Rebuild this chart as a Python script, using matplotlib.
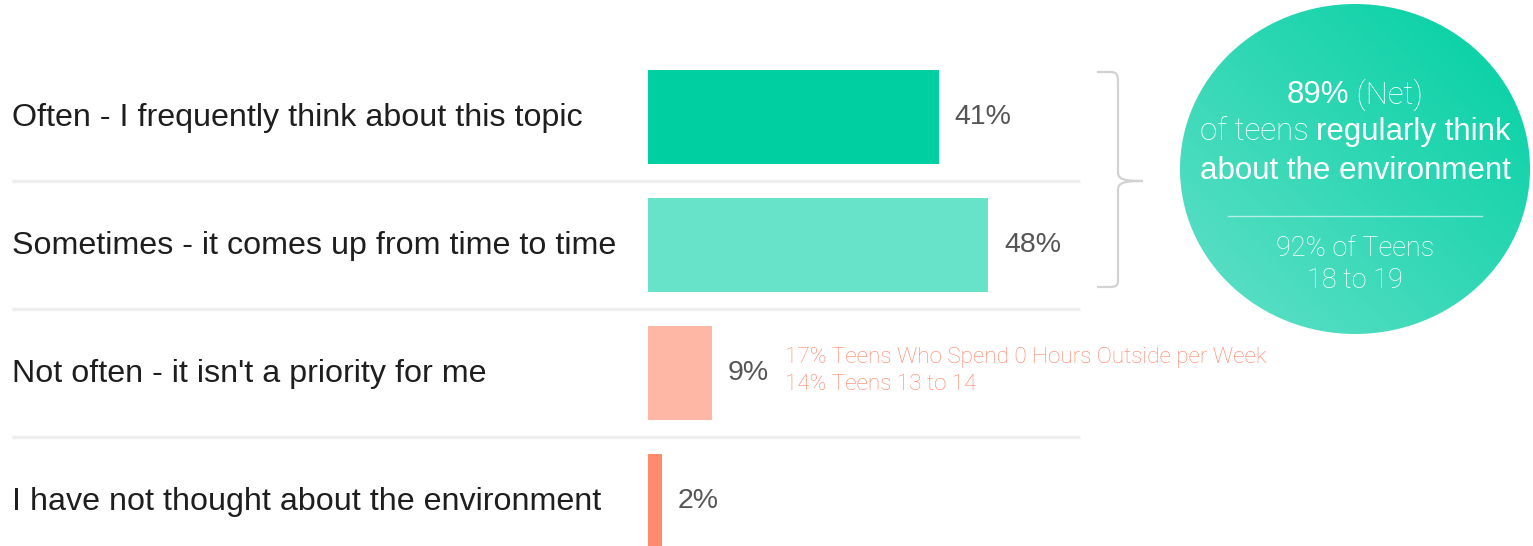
import numpy as np
import matplotlib
matplotlib.use("Agg")
import matplotlib.pyplot as plt
import matplotlib.transforms as mtransforms
from matplotlib.patches import Ellipse, PathPatch
from matplotlib.path import Path
from matplotlib.colors import LinearSegmentedColormap

SANS = ["Liberation Sans", "DejaVu Sans"]
LIGHT = ["Roboto", "Liberation Sans", "DejaVu Sans"]
plt.rcParams["font.family"] = SANS

categories = [
    "Often - I frequently think about this topic",
    "Sometimes - it comes up from time to time",
    "Not often - it isn't a priority for me",
    "I have not thought about the environment",
]
values = [41, 48, 9, 2]
bar_colors = ["#00CFA1", "#66E3C8", "#FDB7A4", "#FF8A6C"]
note_lines = ["17% Teens Who Spend 0 Hours Outside per Week", "14% Teens 13 to 14"]
net_value = 89
sub_value = 92
sub_group = "18 to 19"

W, H = 1533, 546
PX = 7.09          # pixels per percentage point
X0 = 648           # pixel where bars start
ROW0, PITCH = 117, 128

fig = plt.figure(figsize=(W / 100, H / 100), dpi=100)
ax = fig.add_axes([0, 0, 1, 1])
ov = fig.add_axes([0, 0, 1, 1], zorder=3)
ov.patch.set_alpha(0)
for a in (ax, ov):
    a.axis("off")
ax.set_xlim(-X0 / PX, (W - X0) / PX)
ax.set_ylim((H - ROW0) / PITCH, -ROW0 / PITCH)
ov.set_xlim(0, W)
ov.set_ylim(H, 0)

mix = mtransforms.blended_transform_factory(ov.transData, ax.transData)

y = np.arange(len(values))
ax.barh(y, values, height=0.735, color=bar_colors, left=0)

for i, (cat, v) in enumerate(zip(categories, values)):
    ax.text(12, i + 0.01, cat, transform=mix, va="center", ha="left",
            fontsize=23.2, color="#1e1e1e")
    ax.text(v + 2.2, i, f"{v}%", va="center", ha="left",
            fontsize=20.5, color="#555555")
for i in range(len(values) - 1):
    ax.plot([12, 1080], [i + 0.5, i + 0.5], transform=mix,
            color="#eeeeee", lw=2.5, solid_capstyle="butt")

# note next to 9% bar
for k, line in enumerate(note_lines):
    ax.text(values[2] + 10.3, 2 - 0.12 + 0.21 * k, line, va="center", ha="left",
            fontsize=16.2, color="#FF8063", fontweight="light", family=LIGHT)

# curly bracket
verts = [(1097, 72), (1110, 72), (1117, 72), (1118, 75), (1118, 82),
         (1118, 172), (1118, 179), (1123, 181), (1143, 181),
         (1123, 181), (1118, 183), (1118, 190),
         (1118, 280), (1118, 286), (1116, 287), (1108, 287), (1097, 287)]
codes = [Path.MOVETO, Path.LINETO, Path.CURVE4, Path.CURVE4, Path.CURVE4,
         Path.LINETO, Path.CURVE4, Path.CURVE4, Path.CURVE4,
         Path.CURVE4, Path.CURVE4, Path.CURVE4,
         Path.LINETO, Path.CURVE4, Path.CURVE4, Path.CURVE4, Path.LINETO]
ov.add_patch(PathPatch(Path(verts, codes), fill=False, ec="#d2d2d2", lw=1.6))

# gradient circle
cx, cy, ew, eh = 1355, 169, 350, 330
ell = Ellipse((cx, cy), ew, eh, fc="none", ec="none")
ov.add_patch(ell)
gx, gy = np.meshgrid(np.linspace(0, 1, 200), np.linspace(0, 1, 200))
grad = (gx + (1 - gy)) / 2
cmap = LinearSegmentedColormap.from_list("g", ["#63E0C8", "#00D0A3"])
im = ov.imshow(grad, cmap=cmap, extent=[cx - ew / 2, cx + ew / 2, cy + eh / 2, cy - eh / 2],
               origin="upper", aspect="auto", zorder=2)
im.set_clip_path(ell)
ov.set_xlim(0, W)
ov.set_ylim(H, 0)

renderer = fig.canvas.get_renderer()


def runs_line(xc, yc, runs, size):
    texts = []
    for s, light in runs:
        t = ov.text(0, yc, s, fontsize=size, color="white", va="center", ha="left",
                    zorder=4, family=LIGHT if light else SANS,
                    fontweight="light" if light else "normal")
        texts.append(t)
    inv = ov.transData.inverted()
    widths = []
    for t in texts:
        bb = t.get_window_extent(renderer)
        widths.append(inv.transform((bb.x1, 0))[0] - inv.transform((bb.x0, 0))[0])
    x = xc - sum(widths) / 2
    for t, w in zip(texts, widths):
        t.set_x(x)
        x += w


runs_line(cx, 95, [(f"{net_value}%", False), (" (Net)", True)], 22.5)
runs_line(cx, 132, [("of teens ", True), ("regularly think", False)], 22.5)
runs_line(cx, 171, [("about the environment", False)], 22.5)
ov.plot([1228, 1482], [216, 216], color="white", alpha=0.6, lw=1, zorder=4)
ov.text(cx, 249, f"{sub_value}% of Teens", fontsize=19.5, fontweight="light", family=LIGHT,
        color="white", ha="center", va="center", zorder=4)
ov.text(cx, 281, sub_group, fontsize=19.5, fontweight="light", family=LIGHT,
        color="white", ha="center", va="center", zorder=4)

fig.savefig("out.png", dpi=100, facecolor="white")
